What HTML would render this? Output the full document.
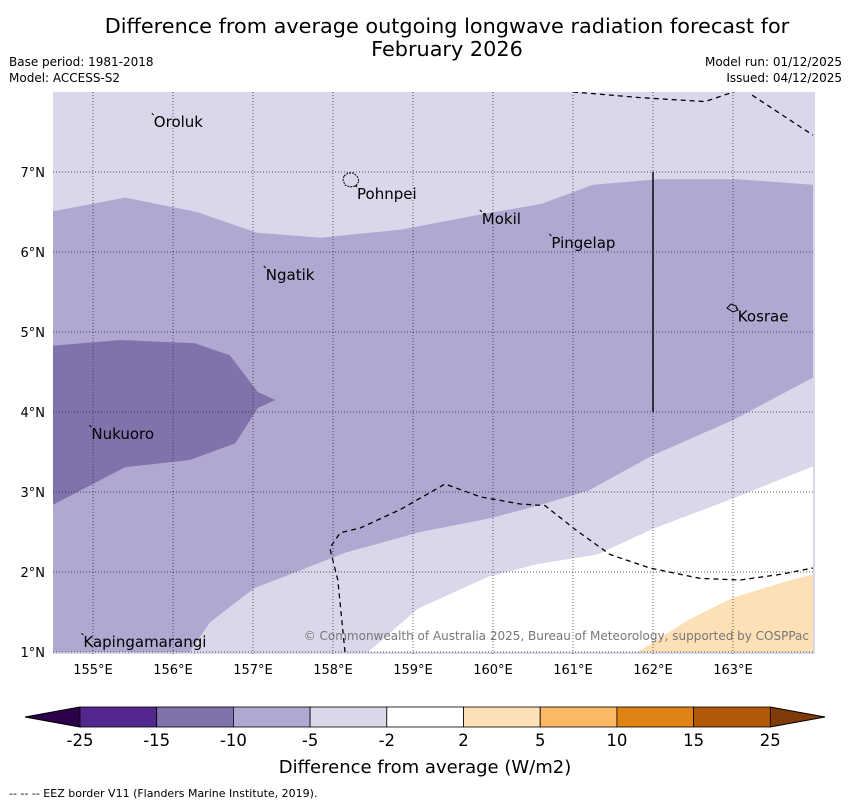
<!DOCTYPE html>
<html><head><meta charset="utf-8"><style>
body{margin:0;background:#fff;font-family:"DejaVu Sans","Liberation Sans",sans-serif;}
svg{display:block}
</style></head><body>
<svg id="chart" width="850" height="804" xmlns="http://www.w3.org/2000/svg">
<text x="447" y="33" font-size="20.8" text-anchor="middle">Difference from average outgoing longwave radiation forecast for</text>
<text x="447" y="56" font-size="20.8" text-anchor="middle">February 2026</text>
<text x="9" y="66" font-size="12">Base period: 1981-2018</text>
<text x="9" y="82" font-size="12">Model: ACCESS-S2</text>
<text x="842" y="66" font-size="12" text-anchor="end">Model run: 01/12/2025</text>
<text x="842" y="82" font-size="12" text-anchor="end">Issued: 04/12/2025</text>
<defs><clipPath id="mc"><rect x="53" y="92" width="762" height="562"/></clipPath></defs>
<g id="map" clip-path="url(#mc)"></g>
<g id="grid"></g>
<g id="labels"></g>
<g id="cbar"></g>
<text x="425" y="773" font-size="18" text-anchor="middle">Difference from average (W/m2)</text>
<text x="9" y="797" font-size="11">--  --  -- EEZ border V11 (Flanders Marine Institute, 2019).</text>
</svg>
<script>
const NS="http://www.w3.org/2000/svg";
const lonTicks=[155,156,157,158,159,160,161,162,163];
const latTicks=[1,2,3,4,5,6,7];
const cbLevels=[-25,-15,-10,-5,-2,2,5,10,15,25];
const cbColors=["#54278f","#8073ac","#b0a8d0","#d8d8ea","#ffffff","#fde0b6","#fdb863","#e08214","#b35806"];
const X=lon=>93+(lon-155)*80;
const Y=lat=>652-(lat-1)*80;
const midRegion=[[154.5,6.51],[155.4,6.68],[156.3,6.5],[157.05,6.24],[157.85,6.18],[158.85,6.28],[159.85,6.47],[160.6,6.6],[161.25,6.84],[162.06,6.91],[163.06,6.91],[164,6.84],[164,4.43],[163,3.9],[162,3.46],[161.2,3.02],[160.6,2.84],[159.96,2.67],[159.09,2.5],[158.15,2.24],[157.59,2.02],[157.02,1.8],[156.46,1.37],[156.21,1],[154.5,1]];
const darkRegion=[[154.5,4.83],[155.34,4.9],[156.27,4.86],[156.71,4.71],[157.06,4.25],[157.28,4.15],[157.06,4.05],[156.78,3.61],[156.21,3.4],[155.4,3.31],[154.5,2.84]];
const whiteRegion=[[164,3.32],[163,2.92],[162,2.54],[161.31,2.22],[160.56,2.1],[159.94,1.94],[159.06,1.54],[158.44,1],[164,1]];
const orangeRegion=[[161.81,1],[162.44,1.4],[163,1.68],[163.69,1.89],[164,1.97],[164,1]];
const eez1=[[161,8],[161.84,7.93],[162.65,7.88],[163.09,8.03]];
const eez2=[[163.24,7.96],[164,7.46]];
const eez3=[[158.15,1],[158.06,1.9],[157.96,2.3],[158.09,2.49],[158.34,2.55],[158.84,2.78],[159.4,3.1],[159.84,2.94],[160.34,2.85],[160.65,2.83],[161.03,2.53],[161.46,2.22],[161.96,2.05],[162.59,1.92],[163.09,1.9],[163.59,1.97],[164,2.05]];
const places=[["Oroluk",155.76,7.56],["Pohnpei",158.3,6.66],["Mokil",159.86,6.35],["Pingelap",160.73,6.05],["Ngatik",157.16,5.65],["Kosrae",163.06,5.13],["Nukuoro",154.98,3.66],["Kapingamarangi",154.88,1.06]];
function el(t,a,p){const e=document.createElementNS(NS,t);for(const k in a)e.setAttribute(k,a[k]);p.appendChild(e);return e;}
const map=document.getElementById('map');
const pts=a=>a.map(p=>X(p[0])+","+Y(p[1])).join(" ");
let r=el('rect',{x:53,y:92,width:762,height:562,fill:"#d8d8ea"},map);


[[midRegion,"#b0a8d0","region-minus-5-to-10"],[darkRegion,"#8073ac","region-minus-10-to-15"],[whiteRegion,"#ffffff","region-near-average"],[orangeRegion,"#fde0b6","region-plus-2-to-5"]].forEach(([d,c,n])=>{
 const p=el('polygon',{points:pts(d),fill:c},map);
 
 
});
[eez1,eez2,eez3].forEach(d=>{
 const l=el('polyline',{points:pts(d),fill:"none",stroke:"#000","stroke-width":1.3,"stroke-dasharray":"5,4"},map);
 
 
});
const v=el('line',{x1:X(162),x2:X(162),y1:Y(7),y2:Y(4),stroke:"#000","stroke-width":1.5},map);


const grid=document.getElementById('grid');
lonTicks.forEach(l=>{
 const g=el('line',{x1:X(l),x2:X(l),y1:92,y2:654,stroke:"#223",'stroke-width':0.7,'stroke-dasharray':"1,2"},grid);
 
 
 const t=el('text',{x:X(l),y:674,'font-size':13,'text-anchor':'middle'},grid);t.textContent=l+"°E";
 
 
});
latTicks.forEach(l=>{
 const g=el('line',{x1:53,x2:815,y1:Y(l),y2:Y(l),stroke:"#223",'stroke-width':0.7,'stroke-dasharray':"1,2"},grid);
 
 
 const t=el('text',{x:45,y:Y(l)+5,'font-size':13,'text-anchor':'end'},grid);t.textContent=l+"°N";
 
 
});
const lab=document.getElementById('labels');
places.forEach(([n,lo,la])=>{
 const t=el('text',{x:X(lo),y:Y(la),'font-size':15},lab);t.textContent=n;
 
 
 const m=el('line',{x1:X(lo)-2,y1:Y(la)-14,x2:X(lo),y2:Y(la)-12,stroke:"#000",'stroke-width':1},lab);
 
 
});
const pi=el('path',{d:"M344,176 l4,-3 5,0 4,3 2,5 -3,5 -6,1 -5,-2 -2,-5z",fill:"none",stroke:"#000",'stroke-dasharray':"2,1"},lab);


const ki=el('path',{d:"M727,308 l4,-4 5,2 2,4 -5,2z",fill:"none",stroke:"#000"},lab);


const cp=el('text',{x:809,y:640,'font-size':12,fill:"#777",'text-anchor':'end'},lab);cp.textContent="© Commonwealth of Australia 2025, Bureau of Meteorology, supported by COSPPac";


const cb=document.getElementById('cbar');
const CX=i=>80+i*76.7;
const lt=el('polygon',{points:"25,717 80,707 80,727",fill:"#2d004b",stroke:"#000"},cb);


const rt=el('polygon',{points:"825,717 770,707 770,727",fill:"#7f3b08",stroke:"#000"},cb);


cbColors.forEach((c,i)=>{
 const s=el('rect',{x:CX(i),y:707,width:76.7,height:20,fill:c,stroke:"#000",'stroke-width':0.8},cb);
 
 
});
cbLevels.forEach((v,i)=>{
 const t=el('text',{x:CX(i),y:746,'font-size':16.5,'text-anchor':'middle'},cb);t.textContent=v;
 
 
});
</script>
</body></html>
